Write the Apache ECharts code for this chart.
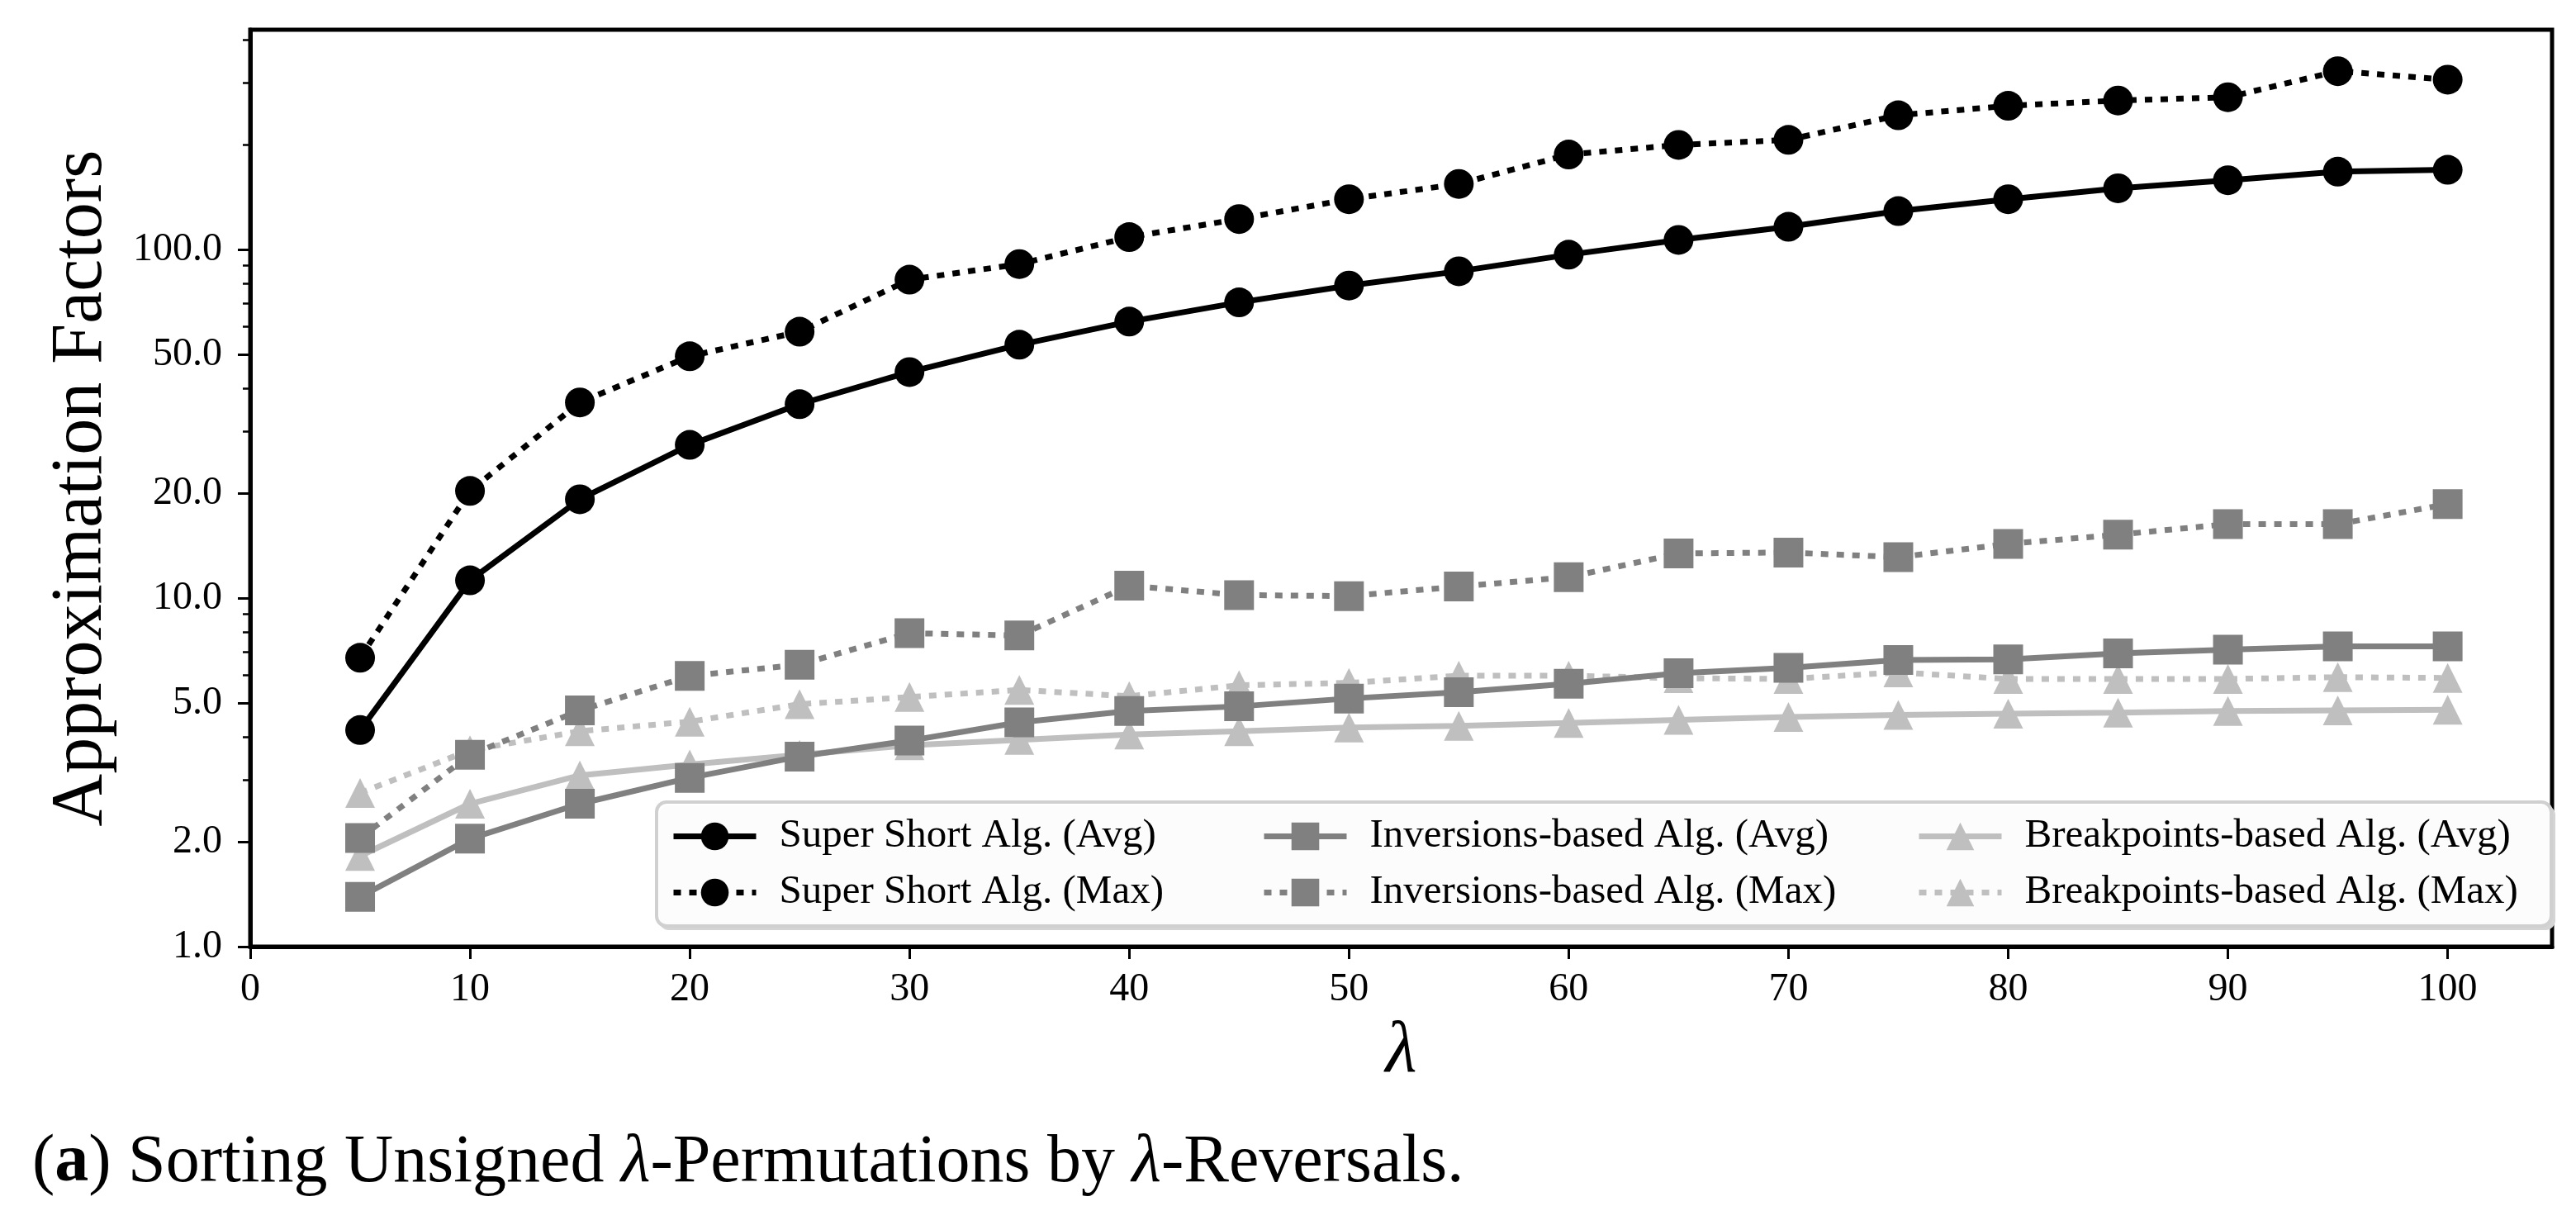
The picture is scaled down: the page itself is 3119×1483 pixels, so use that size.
<!DOCTYPE html>
<html>
<head>
<meta charset="utf-8">
<script src="https://cdn.jsdelivr.net/npm/echarts@6/dist/echarts.min.js"></script>
<style>
html,body{margin:0;padding:0;background:#fff;}
#chart{width:3119px;height:1483px;}
</style>
</head>
<body>
<div id="chart"></div>
<script>
const lambdas = [5,10,15,20,25,30,35,40,45,50,55,60,65,70,75,80,85,90,95,100];
const superShortAvg = [4.18,11.24,19.2,27.5,36.0,44.5,53.3,62.1,70.5,78.8,86.6,96.6,106.5,116.2,128.9,139.4,149.8,158.0,167.2,169.3];
const superShortMax = [6.74,20.3,36.4,49.4,58.1,81.9,90.8,108.5,122.3,139.4,154.2,187.2,199.5,206.3,242.7,258.4,267.5,273.4,324.8,307.0];
const inversionsAvg = [1.39,2.04,2.57,3.05,3.51,3.9,4.4,4.74,4.89,5.15,5.37,5.68,6.09,6.31,6.64,6.67,6.94,7.11,7.27,7.27];
const inversionsMax = [2.05,3.55,4.76,5.98,6.44,7.93,7.81,10.85,10.2,10.13,10.79,11.48,13.43,13.51,13.1,14.3,15.2,16.3,16.3,18.6];
const breakpointsAvg = [1.82,2.57,3.10,3.33,3.55,3.78,3.92,4.06,4.15,4.25,4.3,4.38,4.47,4.56,4.62,4.66,4.69,4.74,4.76,4.78];
const breakpointsMax = [2.76,3.66,4.15,4.42,4.96,5.2,5.45,5.23,5.62,5.71,5.99,5.99,5.89,5.86,6.12,5.86,5.86,5.86,5.93,5.9];

const xTickValues = [0,10,20,30,40,50,60,70,80,90,100];
const yLabelValues = [1,2,5,10,20,50,100];
const yMinorValues = [3,4,6,7,8,9,30,40,60,70,80,90,200,300,400];

const names = {
  ssAvg: 'Super Short Alg. (Avg)', ssMax: 'Super Short Alg. (Max)',
  invAvg: 'Inversions-based Alg. (Avg)', invMax: 'Inversions-based Alg. (Max)',
  bpAvg: 'Breakpoints-based Alg. (Avg)', bpMax: 'Breakpoints-based Alg. (Max)'
};

const SERIF = '"Liberation Serif", "DejaVu Serif", serif';
const chart = echarts.init(document.getElementById('chart'), null, {renderer: 'canvas'});

function pairs(vals){ return lambdas.map((l,i)=>[l, vals[i]]); }
function mk(name, vals, color, symbol, dotted, z){
  return {
    name, type: 'line', data: pairs(vals), xAxisIndex: 0, yAxisIndex: 0,
    symbol, symbolSize: 36, showSymbol: true, z,
    lineStyle: {color, width: 7, type: dotted ? [9, 10] : 'solid', cap: 'butt'},
    itemStyle: {color, borderWidth: 0},
    emphasis: {disabled: true}, animation: false
  };
}

const legendCommon = {
  orient: 'vertical', itemWidth: 100, itemHeight: 42, itemGap: 19,
  selectedMode: false, z: 20,
  lineStyle: {width: 7},
  textStyle: {fontFamily: SERIF, fontSize: 49, color: '#000', lineHeight: 42, padding: [0,0,0,23]}
};

const option = {
  backgroundColor: '#fff',
  animation: false,
  grid: {left: 303, right: 29, top: 36, bottom: 337, show: true, borderColor: '#000', borderWidth: 5, containLabel: false},
  title: {
    left: 34, top: 1362,
    text: '{n|(}{b|a}{n|) Sorting Unsigned }{i|λ}{n|-Permutations by }{i|λ}{n|-Reversals.}',
    textStyle: {
      fontWeight: 'normal',
      rich: {
        n: {fontFamily: SERIF, fontSize: 82, fontWeight: 'normal', color: '#000'},
        b: {fontFamily: SERIF, fontSize: 82, fontWeight: 'bold', color: '#000'},
        i: {fontFamily: SERIF, fontSize: 82, fontWeight: 'normal', fontStyle: 'italic', color: '#000'}
      }
    }
  },
  xAxis: [{
    type: 'value', min: 0, max: 104.75,
    name: 'λ', nameLocation: 'middle', nameGap: 84,
    nameTextStyle: {fontFamily: SERIF, fontSize: 88, fontStyle: 'italic', color: '#000'},
    axisLine: {show: true, lineStyle: {color: '#000', width: 5}},
    axisTick: {show: true, inside: false, length: 15, lineStyle: {color: '#000', width: 3}, customValues: xTickValues},
    axisLabel: {fontFamily: SERIF, fontSize: 48, color: '#000', margin: 28, customValues: xTickValues},
    splitLine: {show: false}
  }],
  yAxis: [{
    type: 'log', logBase: 10, min: 1, max: 427,
    name: 'Approximation Factors', nameLocation: 'middle', nameGap: 160, nameRotate: 90,
    nameTextStyle: {fontFamily: SERIF, fontSize: 88, color: '#000'},
    axisLine: {show: true, lineStyle: {color: '#000', width: 5}},
    axisTick: {show: true, inside: false, length: 15, lineStyle: {color: '#000', width: 3}, customValues: yLabelValues},
    axisLabel: {fontFamily: SERIF, fontSize: 48, color: '#000', margin: 34, customValues: yLabelValues,
      formatter: v => Number(v).toFixed(1)},
    splitLine: {show: false}
  }, {
    type: 'log', logBase: 10, min: 1, max: 427, position: 'left',
    axisLine: {show: false},
    axisTick: {show: true, inside: false, length: 9, lineStyle: {color: '#000', width: 2.5}, customValues: yMinorValues},
    axisLabel: {show: false},
    splitLine: {show: false}
  }],
  legend: [
    Object.assign({}, legendCommon, {left: 807, top: 983, data: [names.ssAvg, names.ssMax]}),
    Object.assign({}, legendCommon, {left: 1522, top: 983, data: [names.invAvg, names.invMax]}),
    Object.assign({}, legendCommon, {left: 2315, top: 983, data: [names.bpAvg, names.bpMax]})
  ],
  graphic: [
    {type: 'rect', z: 15, shape: {x: 798, y: 975, width: 2296, height: 151, r: 12}, style: {fill: '#d4d4d4'}},
    {type: 'rect', z: 16, shape: {x: 795, y: 971, width: 2294, height: 150, r: 12}, style: {fill: 'rgba(255,255,255,0.92)', stroke: '#d0d0d0', lineWidth: 4}}
  ],
  series: [
    mk(names.bpMax, breakpointsMax, '#bfbfbf', 'triangle', true, 2),
    mk(names.bpAvg, breakpointsAvg, '#bfbfbf', 'triangle', false, 2),
    mk(names.invMax, inversionsMax, '#808080', 'rect', true, 3),
    mk(names.invAvg, inversionsAvg, '#808080', 'rect', false, 3),
    mk(names.ssMax, superShortMax, '#000000', 'circle', true, 4),
    mk(names.ssAvg, superShortAvg, '#000000', 'circle', false, 4)
  ]
};
chart.setOption(option);
</script>
</body>
</html>
